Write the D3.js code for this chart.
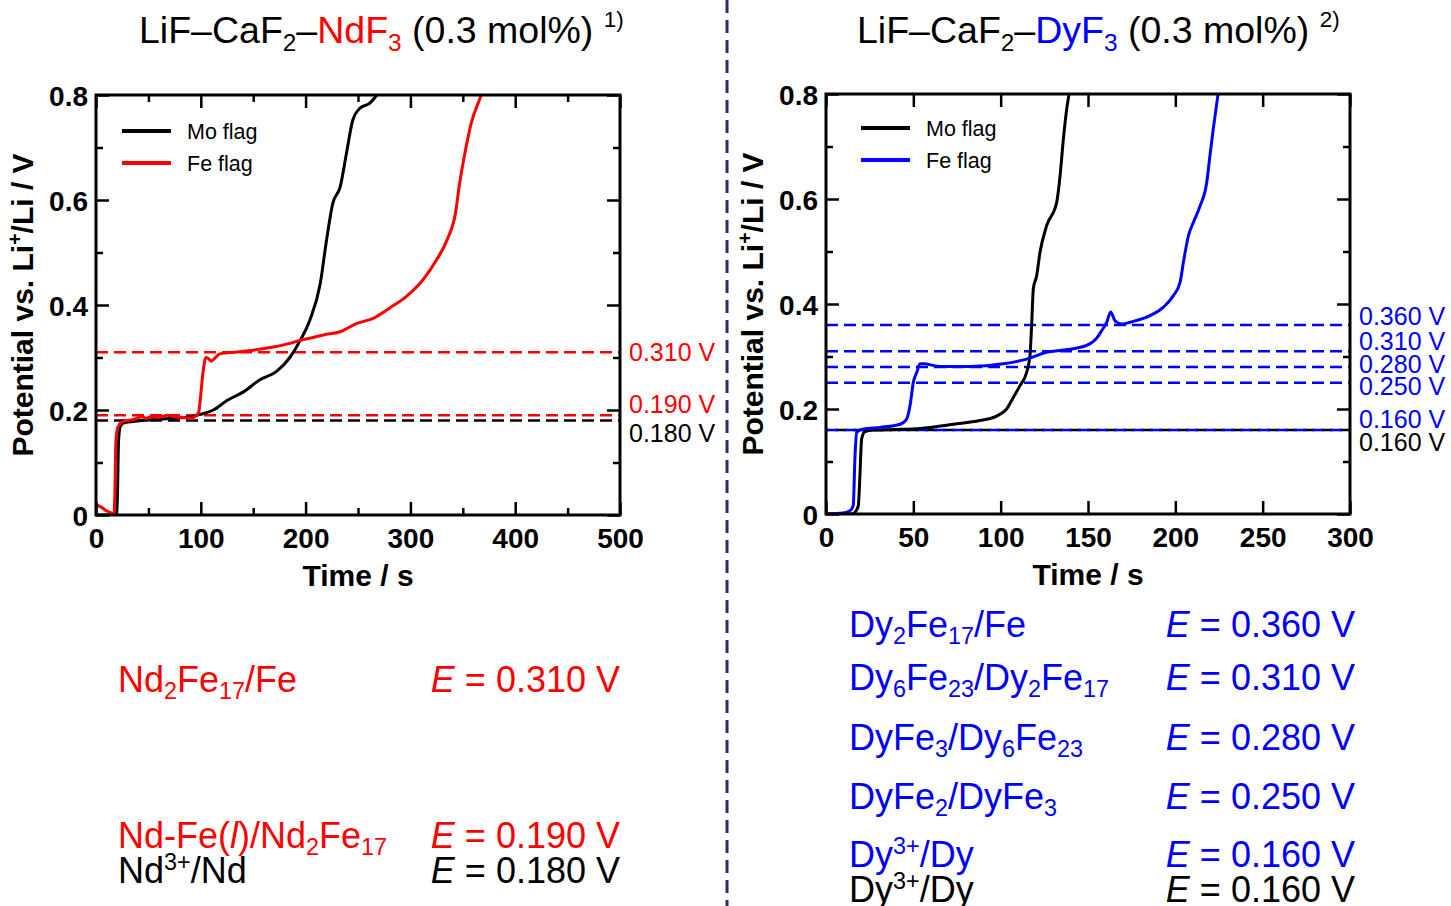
<!DOCTYPE html>
<html>
<head>
<meta charset="utf-8">
<script src="https://cdn.jsdelivr.net/npm/d3@7"></script>
<style>
  body { margin: 0; background: #fff; }
  svg { display: block; }
  text { font-family: "Liberation Sans", Arial, Helvetica, sans-serif; white-space: pre; }
</style>
</head>
<body>
<svg id="fig" width="1451" height="906"></svg>
<script>
// ---- Chronopotentiograms: [time / s, potential / V vs. Li+/Li] ----
const ndMoFlag = [[0,0],[10,0],[19.5,0],[20.5,0.04],[21.5,0.14],[23,0.168],[26,0.175],[35,0.178],[50,0.181],[70,0.184],[90,0.187],[100,0.192],[112,0.2],[125,0.218],[141,0.235],[156,0.257],[172,0.273],[185,0.3],[195,0.333],[204,0.371],[214,0.441],[220,0.524],[226,0.594],[233,0.625],[239,0.689],[245,0.752],[252,0.775],[261,0.784],[268,0.8],[275,0.82]];
const ndFeFlag = [[0,0.02],[5,0.015],[10,0.008],[15,0.003],[17,0],[18,0.04],[19,0.14],[21,0.168],[24,0.176],[30,0.18],[36,0.182],[44,0.187],[48,0.184],[52,0.187],[60,0.186],[68,0.19],[75,0.187],[82,0.186],[90,0.184],[95,0.188],[98,0.196],[100,0.23],[102,0.27],[105,0.3],[108,0.297],[110,0.293],[113,0.298],[118,0.307],[125,0.309],[137,0.311],[150,0.314],[169,0.32],[185,0.327],[195,0.333],[207,0.338],[217,0.343],[233,0.349],[249,0.365],[265,0.375],[280,0.394],[296,0.416],[312,0.448],[325,0.486],[335,0.524],[343,0.575],[347,0.632],[352,0.689],[358,0.746],[368,0.803],[372,0.83]];
const dyMoFlag = [[0,0],[15,0],[17,0.005],[18.5,0.016],[19.5,0.079],[20.4,0.143],[22.3,0.157],[27,0.16],[40,0.161],[54,0.163],[73,0.171],[88,0.178],[98,0.187],[103.4,0.2],[107.2,0.222],[111,0.244],[114.9,0.27],[116.8,0.302],[117.8,0.365],[118.7,0.429],[120.6,0.454],[122.5,0.498],[126.3,0.549],[132.1,0.594],[134,0.644],[135.9,0.714],[137.8,0.771],[139.3,0.803],[141,0.84]];
const dyFeFlag = [[0,0],[10,0.002],[13.7,0.006],[15.6,0.016],[16.6,0.11],[17.6,0.156],[21.4,0.162],[31,0.165],[42.4,0.171],[46.2,0.181],[48.1,0.206],[50,0.251],[52,0.27],[53.8,0.286],[55.7,0.286],[65.3,0.281],[82.4,0.281],[101.5,0.286],[114.9,0.295],[126.3,0.308],[139.7,0.314],[149.2,0.321],[155,0.335],[158,0.35],[160.7,0.365],[163,0.385],[165.5,0.368],[169.3,0.362],[176,0.367],[185.5,0.378],[193.2,0.394],[198.9,0.416],[202.7,0.441],[204.6,0.479],[207.5,0.53],[210.4,0.556],[214.2,0.587],[218,0.632],[219.8,0.682],[221.7,0.733],[224.6,0.803],[226,0.84]];

// ---- Axis ticks ----
const potentialTicks = [0, 0.2, 0.4, 0.6, 0.8];
const potentialMinorTicks = [0.1, 0.3, 0.5, 0.7];
const ndTimeTicks = [0, 100, 200, 300, 400, 500];
const ndTimeMinorTicks = [50, 150, 250, 350, 450];
const dyTimeTicks = [0, 50, 100, 150, 200, 250, 300];
const dyTimeMinorTicks = [];

// ---- Equilibrium potentials of the redox couples / V ----
const ndCouples = ["Nd_{2}Fe_{17}/Fe", "Nd-Fe(*l*)/Nd_{2}Fe_{17}", "Nd^{3+}/Nd"];
const ndPotentials = [0.310, 0.190, 0.180];
const dyCouples = ["Dy_{2}Fe_{17}/Fe", "Dy_{6}Fe_{23}/Dy_{2}Fe_{17}", "DyFe_{3}/Dy_{6}Fe_{23}", "DyFe_{2}/DyFe_{3}", "Dy^{3+}/Dy", "Dy^{3+}/Dy"];
const dyPotentials = [0.360, 0.310, 0.280, 0.250, 0.160, 0.160];

const RED = "#ff0000", BLUE = "#0000ff", BLACK = "#000000";
const svg = d3.select("#fig");
svg.append("rect").attr("width", 1451).attr("height", 906).attr("fill", "#fff");

// Text with _{sub}, ^{sup} and *italic* markup, built from tspans
function richText(parent, x, y, segments, size, anchor) {
  const t = parent.append("text").attr("x", x).attr("y", y)
    .attr("font-size", size).attr("text-anchor", anchor || "start");
  let shift = 0;
  segments.forEach(seg => {
    const tokens = seg.markup.split(/(_\{[^}]*\}|\^\{[^}]*\}|\*[^*]*\*)/).filter(s => s.length);
    tokens.forEach(tok => {
      let txt = tok, target = 0, small = false, italic = false;
      if (tok.startsWith("_{")) { txt = tok.slice(2, -1); target = size * 0.2; small = true; }
      else if (tok.startsWith("^{")) { txt = tok.slice(2, -1); target = -size * (seg.supRise || 0.36); small = true; }
      else if (tok.startsWith("*")) { txt = tok.slice(1, -1); italic = true; }
      const ts = t.append("tspan").attr("dy", target - shift).text(txt)
        .attr("fill", seg.color || BLACK);
      if (small) ts.attr("font-size", size * (seg.smallScale || 0.65));
      if (italic) ts.attr("font-style", "italic");
      shift = target;
    });
  });
  return t;
}

function panel(cfg) {
  const { left, top, width, height, xMax, xTicks, xMinor, series, refs, legendPos, id } = cfg;
  const x = d3.scaleLinear().domain([0, xMax]).range([left, left + width]);
  const y = d3.scaleLinear().domain([0, 0.8]).range([top + height, top]);
  const g = svg.append("g");

  svg.append("clipPath").attr("id", id).append("rect")
    .attr("x", left).attr("y", top).attr("width", width).attr("height", height);

  // dashed equilibrium-potential lines
  refs.forEach(r => {
    g.append("line")
      .attr("x1", x(0)).attr("x2", x(xMax)).attr("y1", y(r.v)).attr("y2", y(r.v))
      .attr("stroke", r.color).attr("stroke-width", 2.5)
      .attr("stroke-dasharray", "12,6").attr("stroke-dashoffset", r.dashOffset || 0);
    g.append("text").attr("x", left + width + 9).attr("y", y(r.v) + r.labelDy + 9)
      .attr("font-size", 25).attr("fill", r.color).text(`${r.v.toFixed(3)} V`);
  });

  // curves
  const line = d3.line().x(d => x(d[0])).y(d => y(d[1])).curve(d3.curveMonotoneX);
  const curves = g.append("g").attr("clip-path", `url(#${id})`);
  series.forEach(s => {
    curves.append("path").datum(s.data).attr("d", line)
      .attr("fill", "none").attr("stroke", s.color).attr("stroke-width", 3)
      .attr("stroke-linejoin", "round");
  });

  // axes: inward ticks on all four sides
  const fmtY = d => d === 0 ? "0" : d.toFixed(1);
  const strip = sel => sel.select(".domain").remove();
  const style = (sel, w) => sel.selectAll("line").attr("stroke", "#000").attr("stroke-width", w);

  const bottom = g.append("g").attr("transform", `translate(0,${top + height})`)
    .call(d3.axisBottom(x).tickValues(xTicks).tickSize(-13).tickPadding(13).tickFormat(d3.format("d")))
    .call(strip).call(s => style(s, 2.5));
  g.append("g").attr("transform", `translate(0,${top + height})`)
    .call(d3.axisBottom(x).tickValues(xMinor).tickSize(-7).tickFormat(""))
    .call(strip).call(s => style(s, 2.5));
  g.append("g").attr("transform", `translate(0,${top})`)
    .call(d3.axisTop(x).tickValues(xTicks).tickSize(-13).tickFormat(""))
    .call(strip).call(s => style(s, 2.5));
  g.append("g").attr("transform", `translate(0,${top})`)
    .call(d3.axisTop(x).tickValues(xMinor).tickSize(-7).tickFormat(""))
    .call(strip).call(s => style(s, 2.5));
  const leftAx = g.append("g").attr("transform", `translate(${left},0)`)
    .call(d3.axisLeft(y).tickValues(potentialTicks).tickSize(-13).tickPadding(8).tickFormat(fmtY))
    .call(strip).call(s => style(s, 2.5));
  g.append("g").attr("transform", `translate(${left},0)`)
    .call(d3.axisLeft(y).tickValues(potentialMinorTicks).tickSize(-7).tickFormat(""))
    .call(strip).call(s => style(s, 2.5));
  g.append("g").attr("transform", `translate(${left + width},0)`)
    .call(d3.axisRight(y).tickValues(potentialTicks).tickSize(-13).tickFormat(""))
    .call(strip).call(s => style(s, 2.5));
  g.append("g").attr("transform", `translate(${left + width},0)`)
    .call(d3.axisRight(y).tickValues(potentialMinorTicks).tickSize(-7).tickFormat(""))
    .call(strip).call(s => style(s, 2.5));
  [bottom, leftAx].forEach(a => a.selectAll("text")
    .attr("font-size", 28).attr("font-weight", "bold").attr("fill", "#000")
    .style("font-family", '"Liberation Sans", Arial, sans-serif'));
  leftAx.selectAll("text").attr("dy", "0.36em");

  g.append("rect").attr("x", left).attr("y", top).attr("width", width).attr("height", height)
    .attr("fill", "none").attr("stroke", "#000").attr("stroke-width", 3);

  // axis titles
  g.append("text").attr("x", left + width / 2).attr("y", top + height + 71)
    .attr("text-anchor", "middle").attr("font-size", 30).attr("font-weight", "bold").text("Time / s");
  const yt = richText(g, 0, 0, [{ markup: "Potential vs. Li^{+}/Li / V", supRise: 0.38 }], 30, "middle");
  yt.attr("font-weight", "bold").attr("transform", `translate(${left - 63},${top + height / 2}) rotate(-90)`);

  // legend
  series.forEach((s, i) => {
    const ly = legendPos.y + i * 32;
    g.append("line").attr("x1", legendPos.x).attr("x2", legendPos.x + 49).attr("y1", ly).attr("y2", ly)
      .attr("stroke", s.color).attr("stroke-width", 4);
    g.append("text").attr("x", legendPos.x + 65).attr("y", ly + 7.5).attr("font-size", 21.5).text(s.name);
  });
}

// Left panel: LiF–CaF2–NdF3
panel({
  id: "clipNd", left: 96, top: 95, width: 524, height: 420, xMax: 500,
  xTicks: ndTimeTicks, xMinor: ndTimeMinorTicks,
  series: [{ name: "Mo flag", color: BLACK, data: ndMoFlag }, { name: "Fe flag", color: RED, data: ndFeFlag }],
  refs: [
    { v: ndPotentials[2], color: BLACK, labelDy: 12 },
    { v: ndPotentials[1], color: RED, labelDy: -11 },
    { v: ndPotentials[0], color: RED, labelDy: 0 }
  ],
  legendPos: { x: 122, y: 131 }
});

// Right panel: LiF–CaF2–DyF3
panel({
  id: "clipDy", left: 826, top: 94, width: 524, height: 420, xMax: 300,
  xTicks: dyTimeTicks, xMinor: dyTimeMinorTicks,
  series: [{ name: "Mo flag", color: BLACK, data: dyMoFlag }, { name: "Fe flag", color: BLUE, data: dyFeFlag }],
  refs: [
    { v: dyPotentials[5], color: BLACK, labelDy: 12, dashOffset: 9 },
    { v: dyPotentials[4], color: BLUE, labelDy: -11 },
    { v: dyPotentials[3], color: BLUE, labelDy: 3 },
    { v: dyPotentials[2], color: BLUE, labelDy: -3 },
    { v: dyPotentials[1], color: BLUE, labelDy: -10 },
    { v: dyPotentials[0], color: BLUE, labelDy: -9 }
  ],
  legendPos: { x: 861, y: 128 }
});

// Panel titles
richText(svg, 139, 43, [
  { markup: "LiF–CaF_{2}–" },
  { markup: "NdF_{3}", color: RED },
  { markup: " (0.3 mol%) " },
  { markup: "^{1)}", smallScale: 0.6, supRise: 0.42 }
], 37.5);
richText(svg, 857, 43, [
  { markup: "LiF–CaF_{2}–" },
  { markup: "DyF_{3}", color: BLUE },
  { markup: " (0.3 mol%) " },
  { markup: "^{2)}", smallScale: 0.6, supRise: 0.42 }
], 37.5);

// Redox couples and their potentials
const ndColors = [RED, RED, BLACK];
const ndBaselines = [692, 848, 883];
ndCouples.forEach((c, i) => {
  richText(svg, 118, ndBaselines[i], [{ markup: c, color: ndColors[i] }], 36);
  richText(svg, 620, ndBaselines[i], [
    { markup: "*E*", color: ndColors[i] },
    { markup: ` = ${ndPotentials[i].toFixed(3)} V`, color: ndColors[i] }
  ], 36, "end");
});
const dyColors = [BLUE, BLUE, BLUE, BLUE, BLUE, BLACK];
const dyBaselines = [637, 690, 750, 809, 867, 902];
dyCouples.forEach((c, i) => {
  richText(svg, 849, dyBaselines[i], [{ markup: c, color: dyColors[i] }], 36);
  richText(svg, 1355, dyBaselines[i], [
    { markup: "*E*", color: dyColors[i] },
    { markup: ` = ${dyPotentials[i].toFixed(3)} V`, color: dyColors[i] }
  ], 36, "end");
});

// Divider between the two systems
svg.append("line").attr("x1", 727).attr("x2", 727).attr("y1", 0).attr("y2", 906)
  .attr("stroke", "#2b2f6e").attr("stroke-width", 3).attr("stroke-dasharray", "13,7");
</script>
</body>
</html>
